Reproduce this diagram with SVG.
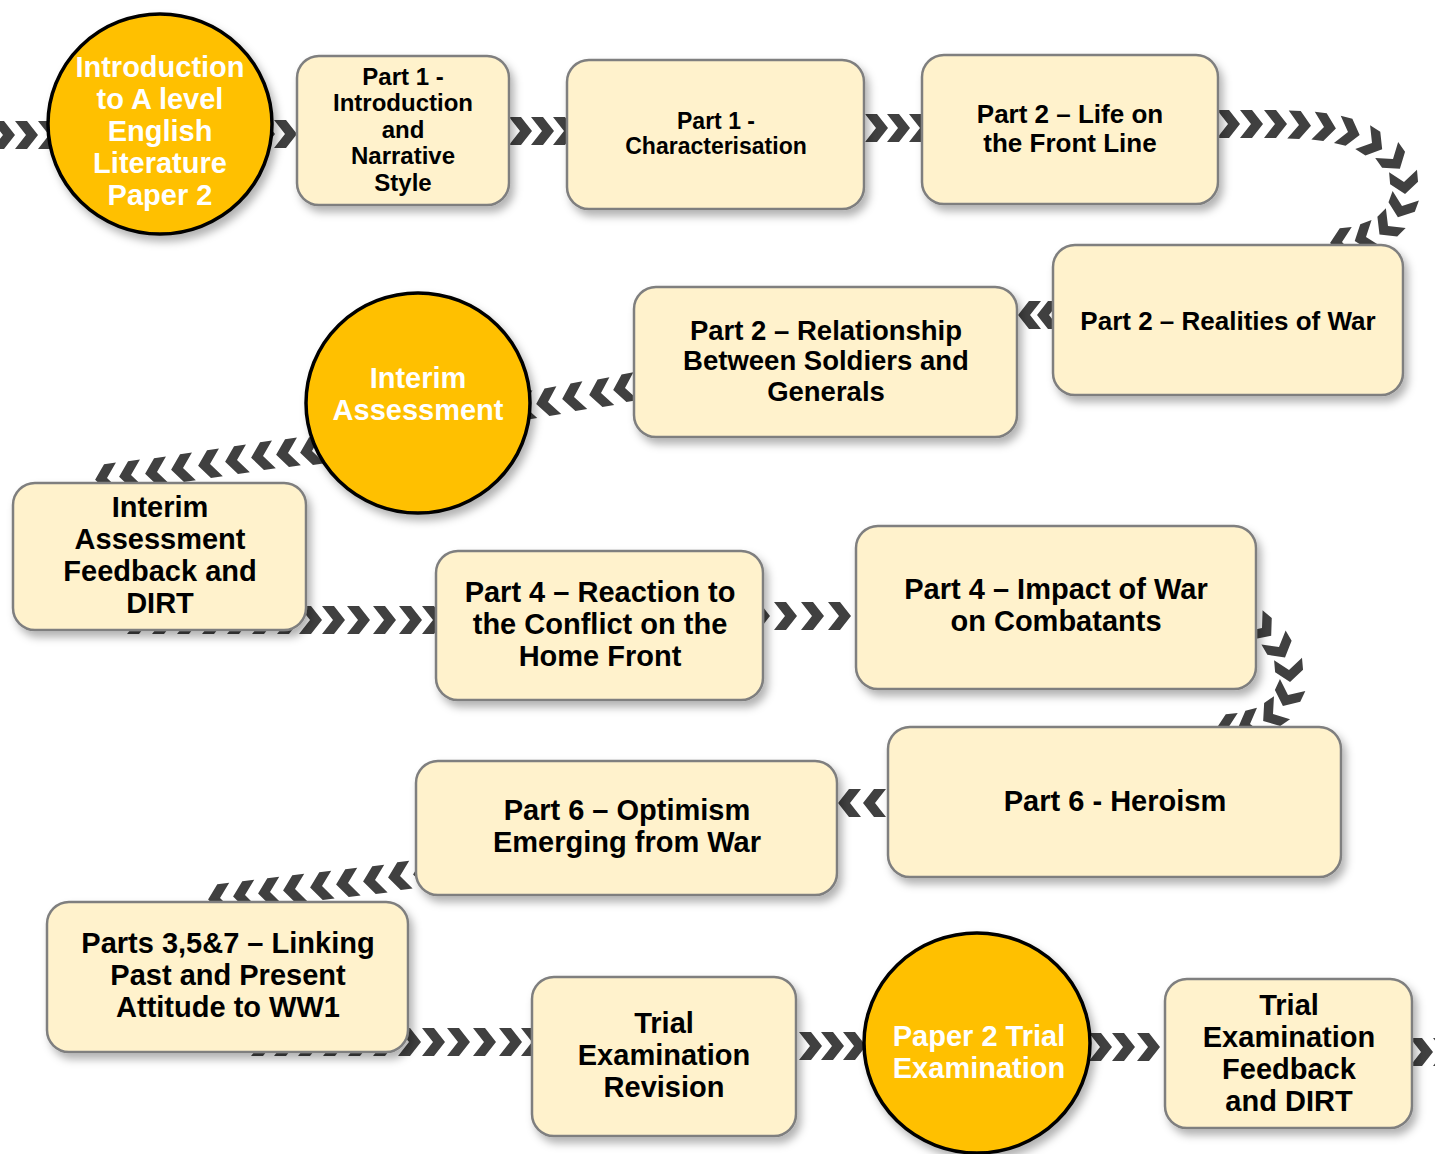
<svg xmlns="http://www.w3.org/2000/svg" xmlns:xlink="http://www.w3.org/1999/xlink" width="1435" height="1154" viewBox="0 0 1435 1154">
<style>
.box{fill:#FFF2CC;stroke:#7F7F7F;stroke-width:2.5;filter:url(#sh)}
.circ{fill:#FFC000;stroke:#000;stroke-width:3.5;filter:url(#sh)}
.t{font-family:"Liberation Sans",Arial,sans-serif;font-weight:bold;text-anchor:middle;fill:#000}
.w{font-family:"Liberation Sans",Arial,sans-serif;font-weight:bold;text-anchor:middle;fill:#FFFFFF}
.s23{font-size:23px}.s24{font-size:24px}.s26{font-size:26px}.s27{font-size:27.5px}.s29{font-size:29px}
</style>
<defs>
<filter id="sh" x="-20%" y="-20%" width="140%" height="150%">
<feDropShadow dx="4" dy="6" stdDeviation="4.5" flood-color="#000" flood-opacity="0.3"/>
</filter>
<path id="c" d="M-11,-14 L1,-14 L12,0 L1,14 L-11,14 L0,0 Z" fill="#404040"/>
</defs>
<rect width="1435" height="1154" fill="#FFFFFF"/>
<g id="connectors">
<use xlink:href="#c" transform="translate(3,135)"/>
<use xlink:href="#c" transform="translate(26,135)"/>
<use xlink:href="#c" transform="translate(49,135)"/>
<use xlink:href="#c" transform="translate(263,134)"/>
<use xlink:href="#c" transform="translate(285,134)"/>
<use xlink:href="#c" transform="translate(520,131)"/>
<use xlink:href="#c" transform="translate(542,131)"/>
<use xlink:href="#c" transform="translate(564,131)"/>
<use xlink:href="#c" transform="translate(876,128)"/>
<use xlink:href="#c" transform="translate(898,128)"/>
<use xlink:href="#c" transform="translate(920,128)"/>
<use xlink:href="#c" transform="translate(1228,124)"/>
<use xlink:href="#c" transform="translate(1251,124)"/>
<use xlink:href="#c" transform="translate(1275,124)"/>
<use xlink:href="#c" transform="translate(1299,125) rotate(3)"/>
<use xlink:href="#c" transform="translate(1324,127) rotate(7)"/>
<use xlink:href="#c" transform="translate(1348,132) rotate(14)"/>
<use xlink:href="#c" transform="translate(1372,143) rotate(32)"/>
<use xlink:href="#c" transform="translate(1393,159) rotate(55)"/>
<use xlink:href="#c" transform="translate(1404,182) rotate(85)"/>
<use xlink:href="#c" transform="translate(1402,206) rotate(110)"/>
<use xlink:href="#c" transform="translate(1388,226) rotate(135)"/>
<use xlink:href="#c" transform="translate(1366,237) rotate(160)"/>
<use xlink:href="#c" transform="translate(1342,242) rotate(175)"/>
<use xlink:href="#c" transform="translate(1030,315) rotate(180)"/>
<use xlink:href="#c" transform="translate(1049,315) rotate(180)"/>
<use xlink:href="#c" transform="translate(648,384) rotate(170)"/>
<use xlink:href="#c" transform="translate(625,388) rotate(170)"/>
<use xlink:href="#c" transform="translate(601,393) rotate(170)"/>
<use xlink:href="#c" transform="translate(574,397) rotate(170)"/>
<use xlink:href="#c" transform="translate(548,402) rotate(170)"/>
<use xlink:href="#c" transform="translate(524,406) rotate(170)"/>
<use xlink:href="#c" transform="translate(336,448) rotate(172)"/>
<use xlink:href="#c" transform="translate(312,451) rotate(172)"/>
<use xlink:href="#c" transform="translate(288,453) rotate(172)"/>
<use xlink:href="#c" transform="translate(263,456) rotate(172)"/>
<use xlink:href="#c" transform="translate(237,460) rotate(172)"/>
<use xlink:href="#c" transform="translate(210,464) rotate(172)"/>
<use xlink:href="#c" transform="translate(183,468) rotate(172)"/>
<use xlink:href="#c" transform="translate(157,472) rotate(172)"/>
<use xlink:href="#c" transform="translate(131,475) rotate(172)"/>
<use xlink:href="#c" transform="translate(107,478) rotate(172)"/>
<use xlink:href="#c" transform="translate(138,620)"/>
<use xlink:href="#c" transform="translate(163,620)"/>
<use xlink:href="#c" transform="translate(188,620)"/>
<use xlink:href="#c" transform="translate(213,620)"/>
<use xlink:href="#c" transform="translate(238,620)"/>
<use xlink:href="#c" transform="translate(263,620)"/>
<use xlink:href="#c" transform="translate(288,620)"/>
<use xlink:href="#c" transform="translate(310,620)"/>
<use xlink:href="#c" transform="translate(333,620)"/>
<use xlink:href="#c" transform="translate(358,620)"/>
<use xlink:href="#c" transform="translate(384,620)"/>
<use xlink:href="#c" transform="translate(410,620)"/>
<use xlink:href="#c" transform="translate(433,620)"/>
<use xlink:href="#c" transform="translate(758,616)"/>
<use xlink:href="#c" transform="translate(785,616)"/>
<use xlink:href="#c" transform="translate(812,616)"/>
<use xlink:href="#c" transform="translate(839,616)"/>
<use xlink:href="#c" transform="translate(1262,628) rotate(40)"/>
<use xlink:href="#c" transform="translate(1279,647) rotate(60)"/>
<use xlink:href="#c" transform="translate(1289,670) rotate(85)"/>
<use xlink:href="#c" transform="translate(1288,695) rotate(115)"/>
<use xlink:href="#c" transform="translate(1273,714) rotate(145)"/>
<use xlink:href="#c" transform="translate(1250,724) rotate(165)"/>
<use xlink:href="#c" transform="translate(1228,728) rotate(175)"/>
<use xlink:href="#c" transform="translate(850,803) rotate(180)"/>
<use xlink:href="#c" transform="translate(875,803) rotate(180)"/>
<use xlink:href="#c" transform="translate(425,873) rotate(173)"/>
<use xlink:href="#c" transform="translate(400,876) rotate(173)"/>
<use xlink:href="#c" transform="translate(375,880) rotate(173)"/>
<use xlink:href="#c" transform="translate(348,883) rotate(173)"/>
<use xlink:href="#c" transform="translate(322,886) rotate(173)"/>
<use xlink:href="#c" transform="translate(295,889) rotate(173)"/>
<use xlink:href="#c" transform="translate(270,892) rotate(173)"/>
<use xlink:href="#c" transform="translate(245,895) rotate(173)"/>
<use xlink:href="#c" transform="translate(220,898) rotate(173)"/>
<use xlink:href="#c" transform="translate(262,1042)"/>
<use xlink:href="#c" transform="translate(285,1042)"/>
<use xlink:href="#c" transform="translate(309,1042)"/>
<use xlink:href="#c" transform="translate(334,1042)"/>
<use xlink:href="#c" transform="translate(359,1042)"/>
<use xlink:href="#c" transform="translate(384,1042)"/>
<use xlink:href="#c" transform="translate(409,1042)"/>
<use xlink:href="#c" transform="translate(433,1042)"/>
<use xlink:href="#c" transform="translate(458,1042)"/>
<use xlink:href="#c" transform="translate(484,1042)"/>
<use xlink:href="#c" transform="translate(510,1042)"/>
<use xlink:href="#c" transform="translate(532,1042)"/>
<use xlink:href="#c" transform="translate(810,1046)"/>
<use xlink:href="#c" transform="translate(832,1046)"/>
<use xlink:href="#c" transform="translate(854,1046)"/>
<use xlink:href="#c" transform="translate(1100,1047)"/>
<use xlink:href="#c" transform="translate(1123,1047)"/>
<use xlink:href="#c" transform="translate(1148,1047)"/>
<use xlink:href="#c" transform="translate(1421,1052)"/>
<use xlink:href="#c" transform="translate(1444,1052)"/>
</g>
<g id="n1">
<ellipse class="circ" cx="160" cy="124" rx="112" ry="110"/>
<text class="w s29" x="160" y="77">Introduction</text>
<text class="w s29" x="160" y="109">to A level</text>
<text class="w s29" x="160" y="141">English</text>
<text class="w s29" x="160" y="173">Literature</text>
<text class="w s29" x="160" y="205">Paper 2</text>
</g>
<g id="n2">
<rect class="box" x="297" y="56" width="212" height="149" rx="22"/>
<text class="t s24" x="403" y="85">Part 1 -</text>
<text class="t s24" x="403" y="111">Introduction</text>
<text class="t s24" x="403" y="138">and</text>
<text class="t s24" x="403" y="164">Narrative</text>
<text class="t s24" x="403" y="191">Style</text>
</g>
<g id="n3">
<rect class="box" x="567" y="60" width="297" height="149" rx="22"/>
<text class="t s23" x="716" y="129">Part 1 -</text>
<text class="t s23" x="716" y="154">Characterisation</text>
</g>
<g id="n4">
<rect class="box" x="922" y="55" width="296" height="149" rx="22"/>
<text class="t s26" x="1070" y="123">Part 2 – Life on</text>
<text class="t s26" x="1070" y="152">the Front Line</text>
</g>
<g id="n5">
<rect class="box" x="1053" y="245" width="350" height="150" rx="22"/>
<text class="t s26" x="1228" y="330">Part 2 – Realities of War</text>
</g>
<g id="n6">
<rect class="box" x="634" y="287" width="383" height="150" rx="22"/>
<text class="t s27" x="826" y="340">Part 2 – Relationship</text>
<text class="t s27" x="826" y="370">Between Soldiers and</text>
<text class="t s27" x="826" y="401">Generals</text>
</g>
<g id="n7">
<ellipse class="circ" cx="418" cy="403" rx="112" ry="110"/>
<text class="w s29" x="418" y="388">Interim</text>
<text class="w s29" x="418" y="420">Assessment</text>
</g>
<g id="n8">
<rect class="box" x="13" y="483" width="293" height="147" rx="22"/>
<text class="t s29" x="160" y="517">Interim</text>
<text class="t s29" x="160" y="549">Assessment</text>
<text class="t s29" x="160" y="581">Feedback and</text>
<text class="t s29" x="160" y="613">DIRT</text>
</g>
<g id="n9">
<rect class="box" x="436" y="551" width="327" height="149" rx="22"/>
<text class="t s29" x="600" y="602">Part 4 – Reaction to</text>
<text class="t s29" x="600" y="634">the Conflict on the</text>
<text class="t s29" x="600" y="666">Home Front</text>
</g>
<g id="n10">
<rect class="box" x="856" y="526" width="400" height="163" rx="22"/>
<text class="t s29" x="1056" y="599">Part 4 – Impact of War</text>
<text class="t s29" x="1056" y="631">on Combatants</text>
</g>
<g id="n11">
<rect class="box" x="888" y="727" width="453" height="150" rx="22"/>
<text class="t s29" x="1115" y="811">Part 6  - Heroism</text>
</g>
<g id="n12">
<rect class="box" x="416" y="761" width="421" height="134" rx="22"/>
<text class="t s29" x="627" y="820">Part 6 – Optimism</text>
<text class="t s29" x="627" y="852">Emerging from War</text>
</g>
<g id="n13">
<rect class="box" x="47" y="902" width="361" height="150" rx="22"/>
<text class="t s29" x="228" y="953">Parts 3,5&amp;7 – Linking</text>
<text class="t s29" x="228" y="985">Past and Present</text>
<text class="t s29" x="228" y="1017">Attitude to WW1</text>
</g>
<g id="n14">
<rect class="box" x="532" y="977" width="264" height="159" rx="22"/>
<text class="t s29" x="664" y="1033">Trial</text>
<text class="t s29" x="664" y="1065">Examination</text>
<text class="t s29" x="664" y="1097">Revision</text>
</g>
<g id="n15">
<ellipse class="circ" cx="977" cy="1043" rx="113" ry="110"/>
<text class="w s29" x="979" y="1046">Paper 2 Trial</text>
<text class="w s29" x="979" y="1078">Examination</text>
</g>
<g id="n16">
<rect class="box" x="1165" y="979" width="247" height="149" rx="22"/>
<text class="t s29" x="1289" y="1015">Trial</text>
<text class="t s29" x="1289" y="1047">Examination</text>
<text class="t s29" x="1289" y="1079">Feedback</text>
<text class="t s29" x="1289" y="1111">and DIRT</text>
</g>
</svg>
